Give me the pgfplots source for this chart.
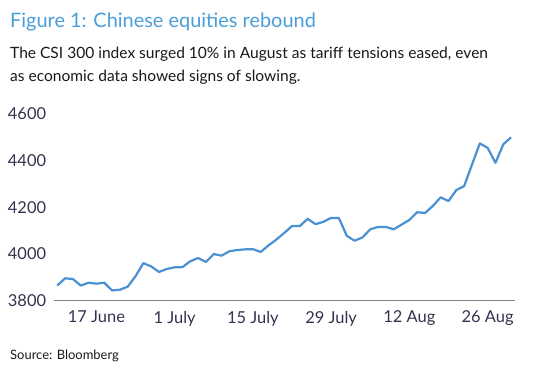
\documentclass[border=0pt]{standalone}
\usepackage{fontspec}
\setmainfont{Lato}
\usepackage{pgfplots}
\pgfplotsset{compat=1.18}
\definecolor{lineblue}{HTML}{4A90D2}
\definecolor{titleblue}{HTML}{4A9ED8}
\definecolor{ticktext}{HTML}{33334F}
\definecolor{axisgray}{HTML}{7F7F7F}
\pgfplotstableread{
i v
0 3865
1 3896
2 3893
3 3865
4 3877
5 3873
6 3877
7 3844
8 3847
9 3860
10 3905
11 3961
12 3947
13 3923
14 3936
15 3943
16 3944
17 3969
18 3983
19 3966
20 4000
21 3993
22 4012
23 4017
24 4020
25 4021
26 4009
27 4037
28 4062
29 4090
30 4120
31 4120
32 4151
33 4128
34 4138
35 4155
36 4154
37 4078
38 4057
39 4071
40 4106
41 4116
42 4116
43 4106
44 4126
45 4146
46 4179
47 4176
48 4206
49 4243
50 4227
51 4274
52 4291
53 4383
54 4474
55 4455
56 4391
57 4470
58 4500
}\csidata
\begin{document}
\begin{tikzpicture}[x=1bp,y=1bp]
\path[use as bounding box] (0,0) rectangle (547,375);
\node[anchor=base west, inner sep=0, font=\fontsize{20}{24}\selectfont, text=titleblue] at (10,348) {Figure 1: Chinese equities rebound};
\node[anchor=base west, inner sep=0, font=\fontsize{15.6}{18}\selectfont, text=black!90] at (10,317) {The CSI 300 index surged 10\% in August as tariff tensions eased, even};
\node[anchor=base west, inner sep=0, font=\fontsize{15.6}{18}\selectfont, text=black!90] at (10,294) {as economic data showed signs of slowing.};
\node[anchor=base west, inner sep=0, font=\fontsize{13}{15}\selectfont, text=black!90] at (10,16) {Source: Bloomberg};
\begin{axis}[
  at={(54.3bp,74.3bp)}, anchor=south west,
  scale only axis, width=460.7bp, height=186.7bp,
  xmin=-0.38, xmax=58.5, ymin=3800, ymax=4600,
  axis x line*=bottom, axis y line*=left,
  y axis line style={draw=none},
  x axis line style={draw=axisgray, line width=1.3bp, -},
  major tick length=0pt,
  ytick={3800,4000,4200,4400,4600},
  yticklabels={3800,4000,4200,4400,4600},
  xtick={5,15,25,35,45,55},
  xticklabels={17 June,1 July,15 July,29 July,12 Aug,26 Aug},
  tick label style={font=\fontsize{16.5}{19}\selectfont, text=ticktext},
  yticklabel style={inner sep=0pt, xshift=-8bp},
  xticklabel style={inner sep=0pt, yshift=-10bp},
  clip=false,
]
\addplot[lineblue, line width=2.2bp, mark=none, line join=round] table[x=i, y=v] {\csidata};
\end{axis}
\end{tikzpicture}
\end{document}
